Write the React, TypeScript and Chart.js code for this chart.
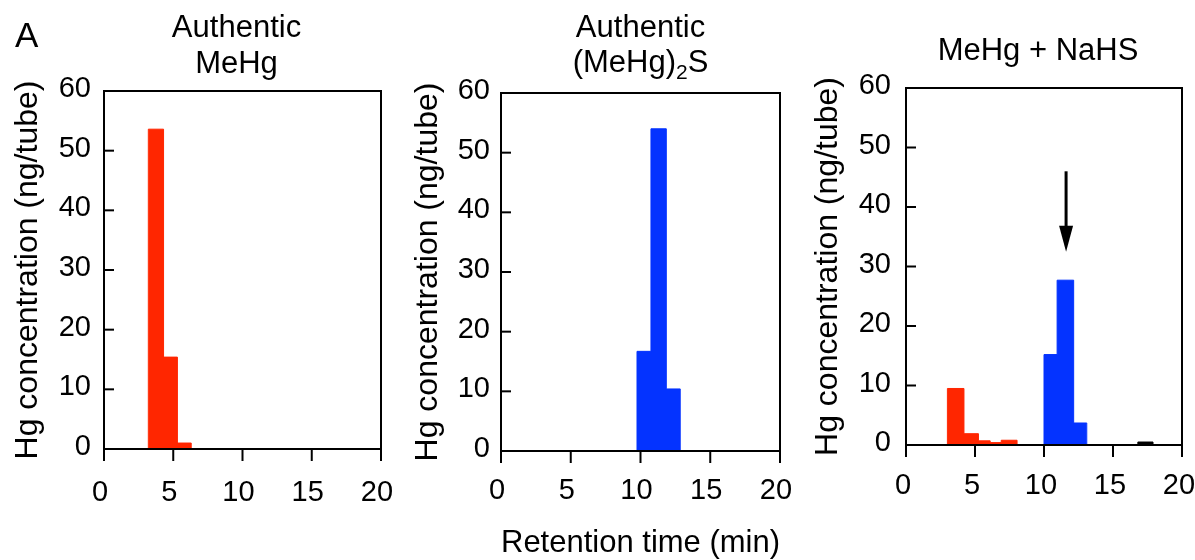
import React, { useEffect, useRef } from "react";
import { Chart, registerables } from "chart.js";

Chart.register(...registerables);

const FONT = "'Liberation Sans', Arial, Helvetica, sans-serif";
const RED = "#FF2600";
const BLUE = "#0433FF";
const BLACK = "#000000";

// ---- Axis ticks ----
const xTicks = [0, 5, 10, 15, 20];
const yTicks = [0, 10, 20, 30, 40, 50, 60];

// ---- Titles ----
const panelLetter = "A";
const titleA1 = ["Authentic", "MeHg"];
const titleA2 = ["Authentic", "(MeHg)_2S"];
const titleA3 = ["MeHg + NaHS"];
const yTitle = "Hg concentration (ng/tube)";
const xTitle = "Retention time (min)";

// ---- Panel 1: authentic MeHg (fraction edges in min, Hg ng/tube) ----
const meHgEdges = [3.2, 4.3, 5.3, 6.3];
const meHgValues = [53.6, 15.4, 1.0];

// ---- Panel 2: authentic (MeHg)2S ----
const dimerEdges = [9.75, 10.75, 11.85, 12.85];
const dimerValues = [16.7, 54.0, 10.4];

// ---- Panel 3: MeHg + NaHS ----
const mixRedEdges = [3.0, 4.2, 5.25, 6.1, 6.9, 8.05];
const mixRedValues = [9.5, 1.9, 0.7, 0.4, 0.8];
const mixBlueEdges = [10.0, 10.95, 12.15, 13.1];
const mixBlueValues = [15.2, 27.7, 3.7];
const mixBlackEdges = [16.8, 17.9];
const mixBlackValues = [0.5];

// ---- Arrow in panel 3 (data coordinates) ----
const arrowX = 11.6;
const arrowFromY = 46;
const arrowToY = 32.5;

type Series = { edges: number[]; values: number[]; color: string };

function stepPoints(edges: number[], values: number[]) {
  const pts: { x: number; y: number }[] = [{ x: edges[0], y: 0 }];
  values.forEach((v, i) => pts.push({ x: edges[i], y: v }));
  pts.push({ x: edges[edges.length - 1], y: 0 });
  return pts;
}

type PanelCfg = {
  left: number;
  width: number;
  area: { left: number; right: number; top: number; bottom: number };
  title: string[];
  titleBaselines: number[];
  titleShift: number;
  series: Series[];
  xLabelOffset: number;
  xPad: number;
  yPad: number;
  showXTitle: boolean;
  showLetter: boolean;
  arrow: boolean;
};

const H = 560;
const TICK_SIZE = 29;
const TITLE_SIZE = 31;
const AXIS_TITLE_SIZE = 32;

const panels: PanelCfg[] = [
  {
    left: 0,
    width: 400,
    area: { left: 104, right: 381, top: 91, bottom: 449 },
    title: titleA1,
    titleBaselines: [37, 72.5],
    titleShift: -6,
    series: [{ edges: meHgEdges, values: meHgValues, color: RED }],
    xLabelOffset: -4,
    xPad: 27,
    yPad: 13,
    showXTitle: false,
    showLetter: true,
    arrow: false,
  },
  {
    left: 400,
    width: 400,
    area: { left: 101, right: 380, top: 93, bottom: 451 },
    title: titleA2,
    titleBaselines: [37, 72],
    titleShift: 0,
    series: [{ edges: dimerEdges, values: dimerValues, color: BLUE }],
    xLabelOffset: -4,
    xPad: 23,
    yPad: 11,
    showXTitle: true,
    showLetter: false,
    arrow: false,
  },
  {
    left: 800,
    width: 395,
    area: { left: 106, right: 382, top: 88, bottom: 445 },
    title: titleA3,
    titleBaselines: [60],
    titleShift: -6,
    series: [
      { edges: mixRedEdges, values: mixRedValues, color: RED },
      { edges: mixBlueEdges, values: mixBlueValues, color: BLUE },
      { edges: mixBlackEdges, values: mixBlackValues, color: BLACK },
    ],
    xLabelOffset: -3,
    xPad: 24,
    yPad: 15,
    showXTitle: false,
    showLetter: false,
    arrow: true,
  },
];

function drawTitleLine(ctx: CanvasRenderingContext2D, text: string, cx: number, baseline: number) {
  const parts = text.split(/_(\d)/);
  const segs = parts.map((t, i) => ({ text: t, sub: i % 2 === 1 }));
  const mainFont = `${TITLE_SIZE}px ${FONT}`;
  const subFont = `21px ${FONT}`;
  let total = 0;
  segs.forEach((s) => {
    ctx.font = s.sub ? subFont : mainFont;
    total += ctx.measureText(s.text).width;
  });
  let x = cx - total / 2;
  ctx.textAlign = "left";
  ctx.textBaseline = "alphabetic";
  ctx.fillStyle = "#000";
  segs.forEach((s) => {
    ctx.font = s.sub ? subFont : mainFont;
    ctx.fillText(s.text, x, baseline + (s.sub ? 7 : 0));
    x += ctx.measureText(s.text).width;
  });
}

function Panel({ cfg }: { cfg: PanelCfg }) {
  const ref = useRef<HTMLCanvasElement>(null);
  useEffect(() => {
    if (!ref.current) return;
    const a = cfg.area;
    const decor = {
      id: "decor",
      afterDatasetsDraw(chart: any) {
        const ctx = chart.ctx as CanvasRenderingContext2D;
        const ca = chart.chartArea;
        const xs = chart.scales.x;
        const ys = chart.scales.y;
        ctx.save();
        ctx.strokeStyle = "#000";
        ctx.lineWidth = 2;
        ctx.strokeRect(ca.left, ca.top, ca.right - ca.left, ca.bottom - ca.top);
        // y ticks (inward)
        yTicks.forEach((v) => {
          const y = ys.getPixelForValue(v);
          ctx.beginPath();
          ctx.moveTo(ca.left, y);
          ctx.lineTo(ca.left + 10, y);
          ctx.stroke();
        });
        // x ticks (outward)
        xTicks.forEach((v) => {
          const x = xs.getPixelForValue(v);
          ctx.beginPath();
          ctx.moveTo(x, ca.bottom);
          ctx.lineTo(x, ca.bottom + 12);
          ctx.stroke();
        });
        if (cfg.arrow) {
          const ax = xs.getPixelForValue(arrowX);
          const y0 = ys.getPixelForValue(arrowFromY);
          const y1 = ys.getPixelForValue(arrowToY);
          const headH = 26;
          const headW = 7;
          ctx.lineWidth = 3;
          ctx.beginPath();
          ctx.moveTo(ax, y0);
          ctx.lineTo(ax, y1 - headH + 2);
          ctx.stroke();
          ctx.fillStyle = "#000";
          ctx.beginPath();
          ctx.moveTo(ax - headW, y1 - headH);
          ctx.lineTo(ax + headW, y1 - headH);
          ctx.lineTo(ax, y1);
          ctx.closePath();
          ctx.fill();
        }
        // title
        const cx = (ca.left + ca.right) / 2 + cfg.titleShift;
        cfg.title.forEach((t, i) => drawTitleLine(ctx, t, cx, cfg.titleBaselines[i]));
        if (cfg.showLetter) {
          ctx.font = `35px ${FONT}`;
          ctx.fillStyle = "#000";
          ctx.textAlign = "left";
          ctx.textBaseline = "alphabetic";
          ctx.fillText(panelLetter, 15, 47);
        }
        ctx.restore();
      },
    };

    const chart = new Chart(ref.current, {
      type: "line",
      data: {
        datasets: cfg.series.map((s) => ({
          data: stepPoints(s.edges, s.values),
          stepped: "before" as const,
          fill: "origin",
          backgroundColor: s.color,
          borderColor: s.color,
          borderWidth: 1,
          pointRadius: 0,
          pointHoverRadius: 0,
          tension: 0,
        })),
      },
      options: {
        animation: false,
        responsive: false,
        devicePixelRatio: 1,
        events: [],
        layout: {
          padding: { left: 0, right: cfg.width - a.right, top: a.top, bottom: 0 },
        },
        plugins: {
          legend: { display: false },
          tooltip: { enabled: false },
          title: { display: false },
        },
        scales: {
          x: {
            type: "linear",
            min: 0,
            max: 20,
            afterBuildTicks: (s: any) => {
              s.ticks = xTicks.map((v) => ({ value: v }));
            },
            afterFit: (s: any) => {
              s.height = H - a.bottom + 2;
              s.paddingLeft = 0;
              s.paddingRight = 0;
            },
            grid: { display: false, drawTicks: false },
            border: { display: false },
            ticks: {
              color: "#000",
              font: { family: FONT, size: TICK_SIZE },
              padding: cfg.xPad,
              labelOffset: cfg.xLabelOffset,
              maxRotation: 0,
              autoSkip: false,
            },
            title: {
              display: cfg.showXTitle,
              text: xTitle,
              color: "#000",
              font: { family: FONT, size: AXIS_TITLE_SIZE },
              padding: { top: 0, bottom: 0 },
            },
          },
          y: {
            type: "linear",
            min: 0,
            max: 60,
            afterBuildTicks: (s: any) => {
              s.ticks = yTicks.map((v) => ({ value: v }));
            },
            afterFit: (s: any) => {
              s.width = a.left;
              s.paddingTop = 0;
              s.paddingBottom = 0;
            },
            grid: { display: false, drawTicks: false },
            border: { display: false },
            ticks: {
              color: "#000",
              font: { family: FONT, size: TICK_SIZE },
              padding: cfg.yPad,
              labelOffset: -2,
              autoSkip: false,
            },
            title: {
              display: true,
              text: yTitle,
              color: "#000",
              font: { family: FONT, size: AXIS_TITLE_SIZE },
              padding: { top: 9, bottom: 0 },
            },
          },
        },
      },
      plugins: [decor],
    } as any);
    return () => chart.destroy();
  }, [cfg]);

  return (
    <canvas
      ref={ref}
      width={cfg.width}
      height={H + 2}
      style={{ position: "absolute", left: cfg.left, top: 0, width: cfg.width, height: H + 2 }}
    />
  );
}

export default function App() {
  return (
    <div style={{ position: "fixed", left: 0, top: 0, width: 1195, height: H, overflow: "hidden", background: "#fff" }}>
      {panels.map((p, i) => (
        <Panel key={i} cfg={p} />
      ))}
    </div>
  );
}
